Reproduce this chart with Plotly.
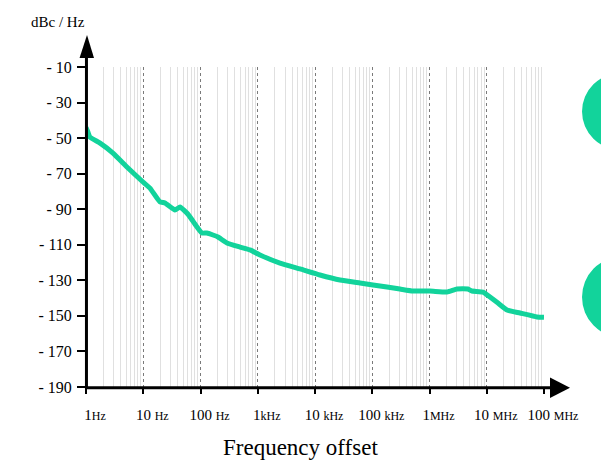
import math
import plotly.graph_objects as go

# Phase noise trace: offset frequency (Hz) and level (dBc/Hz)
freq_hz = [1, 1.08, 1.17, 1.76, 2.96, 5.3, 9.9, 13.1, 19.6, 24, 35.9, 43.8, 60, 87,
           106, 129, 165, 202, 290, 490, 733, 1096, 2447, 5470, 12200, 27350,
           61100, 103000, 181000, 305000, 515000, 1.02e6, 2.02e6, 3.02e6, 4.7e6,
           5.5e6, 8.6e6, 1.14e7, 1.57e7, 2.26e7, 3.81e7, 7.55e7, 1.0e8]
level_dbc = [-44, -46.6, -49.4, -52.8, -58.4, -66.5, -74.7, -78.1, -85.9, -86.5,
             -90.4, -88.8, -92.7, -100, -103.4, -103.4, -104.5, -105.6, -109,
             -111.3, -112.9, -115.8, -120.3, -123.6, -127, -129.8, -131.5, -132.6,
             -133.8, -134.9, -136, -136, -136.6, -134.9, -134.9, -136, -136.6,
             -139.4, -142.8, -146.7, -148.4, -150.6, -150.8]

# Axis labelling
decades = [0, 1, 2, 3, 4, 5, 6, 7, 8]
decade_numbers = ["1", "10 ", "100 ", "1", "10 ", "100 ", "1", "10 ", "100 "]
decade_units = ["Hz", "Hz", "Hz", "kHz", "kHz", "kHz", "MHz", "MHz", "MHz"]
y_ticks = [-10, -30, -50, -70, -90, -110, -130, -150, -170, -190]

GREEN = "#12d39b"
SERIF = "Liberation Serif, Times New Roman, serif"

x_log = [math.log10(f) for f in freq_hz]
minor_vals = [d + math.log10(k) for d in range(8) for k in range(2, 10)]
x_ticktext = [f"{n}<span style='font-size:12px'>{u}</span>"
              for n, u in zip(decade_numbers, decade_units)]
y_ticktext = [f"- {abs(v)}" for v in y_ticks]

fig = go.Figure()
fig.add_trace(go.Scatter(
    x=x_log, y=level_dbc, mode="lines",
    line=dict(color=GREEN, width=5, shape="spline", smoothing=0.4),
    hoverinfo="skip", showlegend=False,
))

fig.update_layout(
    width=601, height=469,
    margin=dict(l=86, r=57, t=67, b=82),
    paper_bgcolor="white", plot_bgcolor="white",
    font=dict(family=SERIF, color="black", size=15),
    xaxis=dict(
        range=[0, 8], tickmode="array", tickvals=decades, ticktext=x_ticktext,
        ticks="outside", ticklen=6, tickwidth=2, tickcolor="black",
        showgrid=True, gridcolor="#7a7a7a", griddash="dot", gridwidth=1,
        minor=dict(tickmode="array", tickvals=minor_vals, showgrid=True,
                   gridcolor="#e0e0e0", gridwidth=1, griddash="solid", ticks=""),
        zeroline=False, showline=False, ticklabelshift=9,
        ticklabelstandoff=8,
        tickfont=dict(family=SERIF, size=15),
    ),
    yaxis=dict(
        range=[-190, -10], tickmode="array", tickvals=y_ticks, ticktext=y_ticktext,
        ticks="outside", ticklen=8, tickwidth=2, tickcolor="black",
        showgrid=False, zeroline=False, showline=False,
        ticklabelstandoff=2,
        tickfont=dict(family=SERIF, size=16),
    ),
    shapes=[
        # decorative discs at the right edge
        dict(type="circle", xref="paper", yref="paper", x0=1.083, x1=1.253,
             y0=0.741, y1=0.981, fillcolor=GREEN, line=dict(width=0), layer="above"),
        dict(type="circle", xref="paper", yref="paper", x0=1.083, x1=1.253,
             y0=0.156, y1=0.406, fillcolor=GREEN, line=dict(width=0), layer="above"),
        # axis lines with arrowheads
        dict(type="line", xref="paper", yref="paper", x0=0.001, x1=0.001,
             y0=-0.006, y1=1.03, line=dict(color="black", width=3), layer="above"),
        dict(type="line", xref="paper", yref="paper", x0=0, x1=1.015,
             y0=-0.002, y1=-0.002, line=dict(color="black", width=3), layer="above"),
        dict(type="path", xref="paper", yref="paper",
             path="M -0.0141,1.028 L 0.0022,1.1 L 0.0175,1.028 Z",
             fillcolor="black", line=dict(width=0), layer="above"),
        dict(type="path", xref="paper", yref="paper",
             path="M 1.0131,0.030 L 1.0568,-0.002 L 1.0131,-0.034 Z",
             fillcolor="black", line=dict(width=0), layer="above"),
    ],
    annotations=[
        dict(text="dBc / Hz", xref="paper", yref="paper", x=-0.061, y=1.14,
             xanchor="center", yanchor="middle", showarrow=False,
             font=dict(family=SERIF, size=15)),
        dict(text="Frequency offset", xref="paper", yref="paper", x=0.469, y=-0.188,
             xanchor="center", yanchor="middle", showarrow=False,
             font=dict(family=SERIF, size=23)),
    ],
)

fig.write_html("out.html")
